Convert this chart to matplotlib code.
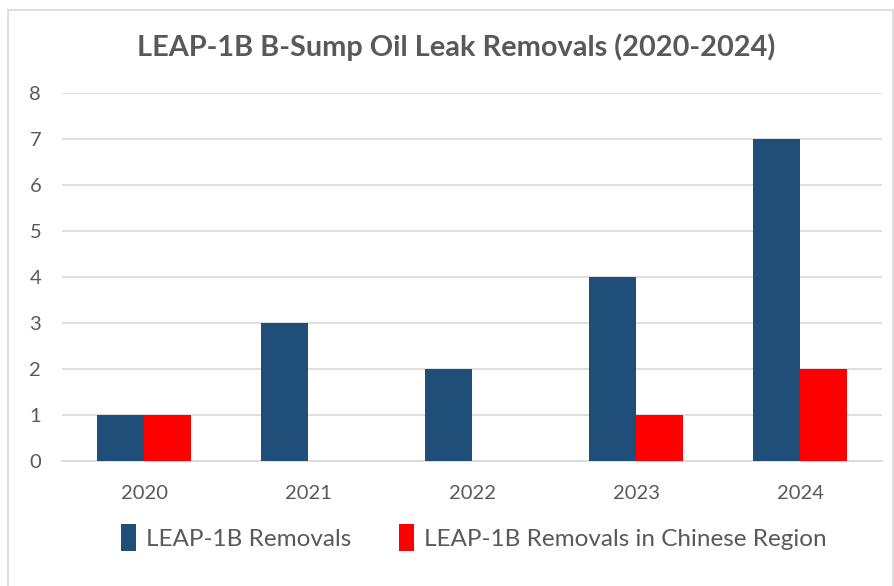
import numpy as np
import matplotlib.pyplot as plt
from matplotlib.patches import Rectangle

# veriler
years = ["2020", "2021", "2022", "2023", "2024"]
removals = [1, 3, 2, 4, 7]
removals_china = [1, 0, 0, 1, 2]

plt.rcParams['font.family'] = ['Lato', 'DejaVu Sans']

fig = plt.figure(figsize=(8.94, 5.86), dpi=100)
ax = fig.add_axes([0.0694, 0.2133, 0.9172, 0.628])

x = np.arange(len(years))
w = 0.285
ax.bar(x - w / 2, removals, w, color='#1f4e79', label='LEAP-1B Removals', zorder=3)
ax.bar(x + w / 2, removals_china, w, color='#ff0000',
       label='LEAP-1B Removals in Chinese Region', zorder=3)

ax.set_xlim(-0.5, len(years) - 0.5)
ax.set_ylim(0, 8)
ax.set_yticks(range(0, 9))
ax.set_xticks(x)
ax.set_xticklabels(years)
ax.yaxis.grid(True, color='#d9d9d9', linewidth=1.2, zorder=0)
for s in ['top', 'right', 'left']:
    ax.spines[s].set_visible(False)
ax.spines['bottom'].set_color('#d9d9d9')
ax.spines['bottom'].set_linewidth(1.2)
ax.tick_params(axis='both', length=0, colors='#595959', labelsize=14.5)
ax.tick_params(axis='y', pad=15)
ax.tick_params(axis='x', pad=17)

fig.text(0.51, 0.92, "LEAP-1B B-Sump Oil Leak Removals (2020-2024)", ha='center', va='center',
         fontsize=20.8, fontweight='bold', color='#595959')

leg = fig.legend(loc='center', bbox_to_anchor=(0.53, 0.083), ncol=2, frameon=False,
                 fontsize=17.5, handlelength=0.6, handleheight=1.3, handletextpad=0.4,
                 columnspacing=2.0)
for t in leg.get_texts():
    t.set_color('#595959')

# çerçeve
fig.patches.append(Rectangle((0.009, -0.01), 0.99, 0.993, transform=fig.transFigure,
                             fill=False, edgecolor='#d9d9d9', linewidth=1.2))

fig.savefig('out.png', dpi=100)
